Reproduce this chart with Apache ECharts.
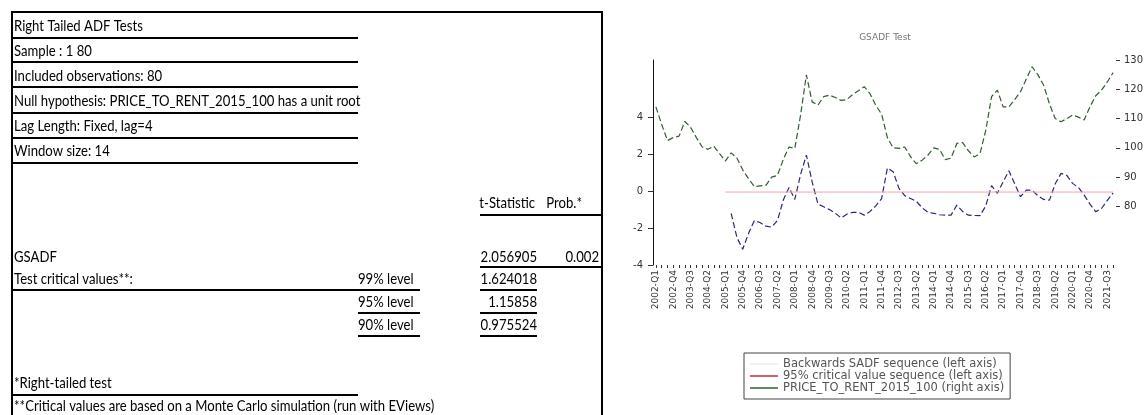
<!DOCTYPE html>
<html>
<head>
<meta charset="utf-8">
<script src="https://cdn.jsdelivr.net/npm/echarts@6/dist/echarts.min.js"></script>
<style>
  html, body { margin: 0; padding: 0; background: #fff; }
  #chart { width: 1148px; height: 415px; }
</style>
</head>
<body>
<div id="chart"></div>
<script>
// quarters 2002-Q1 .. 2021-Q4 (sample 1 80)
var quarters = [
  '2002-Q1','2002-Q2','2002-Q3','2002-Q4','2003-Q1','2003-Q2','2003-Q3','2003-Q4',
  '2004-Q1','2004-Q2','2004-Q3','2004-Q4','2005-Q1','2005-Q2','2005-Q3','2005-Q4',
  '2006-Q1','2006-Q2','2006-Q3','2006-Q4','2007-Q1','2007-Q2','2007-Q3','2007-Q4',
  '2008-Q1','2008-Q2','2008-Q3','2008-Q4','2009-Q1','2009-Q2','2009-Q3','2009-Q4',
  '2010-Q1','2010-Q2','2010-Q3','2010-Q4','2011-Q1','2011-Q2','2011-Q3','2011-Q4',
  '2012-Q1','2012-Q2','2012-Q3','2012-Q4','2013-Q1','2013-Q2','2013-Q3','2013-Q4',
  '2014-Q1','2014-Q2','2014-Q3','2014-Q4','2015-Q1','2015-Q2','2015-Q3','2015-Q4',
  '2016-Q1','2016-Q2','2016-Q3','2016-Q4','2017-Q1','2017-Q2','2017-Q3','2017-Q4',
  '2018-Q1','2018-Q2','2018-Q3','2018-Q4','2019-Q1','2019-Q2','2019-Q3','2019-Q4',
  '2020-Q1','2020-Q2','2020-Q3','2020-Q4','2021-Q1','2021-Q2','2021-Q3','2021-Q4'
];

// PRICE_TO_RENT_2015_100 (right axis)
var priceToRent = [
  114.0, 108.0, 102.5, 103.5, 104.0, 109.0, 107.0, 103.5, 100.3, 99.5,
  100.6, 98.0, 95.5, 98.3, 96.5, 92.5, 89.5, 86.8, 87.0, 87.2,
  90.0, 90.6, 96.0, 100.3, 99.8, 111.2, 124.9, 115.7, 114.6, 117.5,
  118.0, 117.2, 116.2, 116.5, 118.2, 119.5, 120.9, 118.5, 114.5, 111.5,
  103.5, 100.0, 99.8, 100.3, 97.0, 94.6, 95.8, 97.5, 100.0, 99.5,
  96.0, 96.5, 101.5, 101.8, 99.0, 96.9, 98.0, 106.0, 117.5, 119.7,
  114.0, 114.0, 116.5, 119.2, 123.5, 127.7, 125.0, 121.4, 115.0, 110.0,
  108.9, 110.0, 111.2, 110.5, 109.5, 114.0, 117.8, 119.7, 122.5, 125.7
];

// Backwards SADF sequence (left axis), starts after the 14-obs window
var backwardsSadf = [
  null, null, null, null, null, null, null, null, null, null, null, null, null,
  -1.2, -2.5, -3.15, -2.3, -1.6, -1.7, -1.9,
  -1.95, -1.6, -0.5, 0.2, -0.45, 0.9, 1.95, 0.5, -0.7, -0.85,
  -1.0, -1.2, -1.45, -1.25, -1.15, -1.15, -1.3, -1.1, -0.8, -0.4,
  1.25, 1.05, 0.15, -0.25, -0.4, -0.55, -0.9, -1.15, -1.2, -1.28,
  -1.3, -1.3, -0.76, -1.1, -1.3, -1.32, -1.33, -0.8, 0.3, -0.12,
  0.5, 1.1, 0.4, -0.3, 0.05, 0.05, -0.25, -0.45, -0.49, 0.4,
  0.96, 0.85, 0.42, 0.2, -0.22, -0.7, -1.12, -0.94, -0.5, -0.1
];

// 95% critical value sequence (left axis)
var crit95Value = -0.05;
var crit95Start = 12;

var leftTicks = [-4, -2, 0, 2, 4];
var rightTicks = [80, 90, 100, 110, 120, 130];

var seriesNames = [
  'Backwards SADF sequence (left axis)',
  '95% critical value sequence (left axis)',
  'PRICE_TO_RENT_2015_100 (right axis)'
];

// table text
var infoRows = [
  'Right Tailed ADF Tests',
  'Sample : 1 80',
  'Included observations: 80',
  'Null hypothesis: PRICE_TO_RENT_2015_100 has a unit root',
  'Lag Length: Fixed, lag=4',
  'Window size: 14'
];
var statHeader = ['t-Statistic', 'Prob.*'];
var gsadfRow = ['GSADF', '2.056905', '0.002'];
var critLabel = 'Test critical values**:';
var critLevels = ['99% level', '95% level', '90% level'];
var critValues = ['1.624018', '1.15858', '0.975524'];
var footnotes = [
  '*Right-tailed test',
  '**Critical values are based on a Monte Carlo simulation (run with EViews)'
];

var crit95 = quarters.map(function (q, i) { return i >= crit95Start ? crit95Value : null; });

var TFONT = '15px Lato, "Open Sans", sans-serif';
var SX = 0.875; // squeeze table text, the source font is narrow

function txt(s, x, y, align) {
  return {
    type: 'text', x: x, y: y, scaleX: SX, silent: true,
    style: { text: s, font: TFONT, fill: '#000', align: align || 'left', verticalAlign: 'middle' }
  };
}
function hline(x1, x2, y) {
  return {
    type: 'line', silent: true,
    shape: { x1: x1, y1: y, x2: x2, y2: y },
    style: { stroke: '#000', lineWidth: 2 }
  };
}
function vline(x, y1, y2) {
  return {
    type: 'line', silent: true,
    shape: { x1: x, y1: y1, x2: x, y2: y2 },
    style: { stroke: '#000', lineWidth: 2 }
  };
}

var table = [];
table.push(vline(12, 11, 415), vline(602, 11, 415), hline(11, 603, 12));
var rowLineY = [38, 62, 87, 113, 138, 163];
infoRows.forEach(function (s, i) {
  table.push(txt(s, 14, 26 + i * 25));
  table.push(hline(12, 358, rowLineY[i]));
});
table.push(txt(statHeader[0], 535, 203, 'right'));
table.push(txt(statHeader[1], 582, 203, 'right'));
table.push(hline(480, 602, 215));
table.push(txt(gsadfRow[0], 14, 257));
table.push(txt(gsadfRow[1], 537, 257, 'right'));
table.push(txt(gsadfRow[2], 599, 257, 'right'));
table.push(hline(480, 602, 267));
table.push(txt(critLabel, 14, 279));
critLevels.forEach(function (s, i) {
  var y = 279 + i * 23;
  table.push(txt(s, 358, y));
  table.push(txt(critValues[i], 537, y, 'right'));
  table.push(hline(480, 537, y + 11));
  table.push(hline(i === 0 ? 12 : 358, 420, y + 11));
});
table.push(txt(footnotes[0], 14, 383));
table.push(hline(12, 358, 395));
table.push(txt(footnotes[1], 14, 406));

var chart = echarts.init(document.getElementById('chart'));
var axisFont = { fontFamily: '"DejaVu Sans", sans-serif', fontSize: 9, color: '#333' };

chart.setOption({
  animation: false,
  backgroundColor: '#fff',
  title: {
    text: 'GSADF Test',
    left: 880, top: 28, textAlign: 'center',
    textStyle: { fontFamily: '"DejaVu Sans", sans-serif', fontSize: 9, fontWeight: 'normal', color: '#777' }
  },
  graphic: table,
  legend: {
    orient: 'vertical',
    left: 744, top: 353,
    padding: [5, 6, 5, 6],
    itemGap: 0,
    itemWidth: 28,
    itemHeight: 1.5,
    icon: 'rect',
    borderColor: '#444',
    borderWidth: 1,
    borderRadius: 0,
    textStyle: { fontFamily: '"DejaVu Sans", sans-serif', fontSize: 11.5, lineHeight: 11, color: '#555' },
    data: [
      { name: seriesNames[0], itemStyle: { color: '#eeeeee' } },
      { name: seriesNames[1], itemStyle: { color: '#c03030' } },
      { name: seriesNames[2], itemStyle: { color: '#2f5f2f' } }
    ]
  },
  grid: { left: 653, top: 60, width: 463, height: 205, containLabel: false },
  xAxis: {
    type: 'category',
    data: quarters,
    boundaryGap: true,
    axisLine: { show: false, onZero: false },
    axisTick: { show: true, interval: 0, alignWithLabel: true, length: 3, lineStyle: { color: '#333' } },
    axisLabel: Object.assign({ interval: 2, rotate: 90, margin: 5 }, axisFont),
    splitLine: { show: false }
  },
  yAxis: [
    {
      type: 'value', min: -4, max: 7.1,
      axisLine: { show: true, lineStyle: { color: '#111', width: 1 } },
      axisTick: { show: true, length: 5, customValues: leftTicks, lineStyle: { color: '#333' } },
      axisLabel: Object.assign({}, axisFont, { customValues: leftTicks, margin: 10, fontSize: 10 }),
      splitLine: { show: false }
    },
    {
      type: 'value', min: 60, max: 130, position: 'right',
      axisLine: { show: false },
      axisTick: { show: true, length: 4, customValues: rightTicks, lineStyle: { color: '#333' } },
      axisLabel: Object.assign({}, axisFont, { customValues: rightTicks, margin: 8, fontSize: 10 }),
      splitLine: { show: false }
    }
  ],
  series: [
    {
      name: seriesNames[0], type: 'line', yAxisIndex: 0, data: backwardsSadf,
      showSymbol: false, connectNulls: false,
      lineStyle: { color: '#2a2a70', width: 1.2, type: [6, 3] },
      itemStyle: { color: '#2a2a70' }
    },
    {
      name: seriesNames[1], type: 'line', yAxisIndex: 0, data: crit95,
      showSymbol: false,
      lineStyle: { color: '#f2a5ad', width: 1 },
      itemStyle: { color: '#c03030' }
    },
    {
      name: seriesNames[2], type: 'line', yAxisIndex: 1, data: priceToRent,
      showSymbol: false,
      lineStyle: { color: '#2f5f2f', width: 1.2, type: [6, 3] },
      itemStyle: { color: '#2f5f2f' }
    }
  ]
});
window.onresize = function () {
  chart.resize();
};
</script>
</body>
</html>
